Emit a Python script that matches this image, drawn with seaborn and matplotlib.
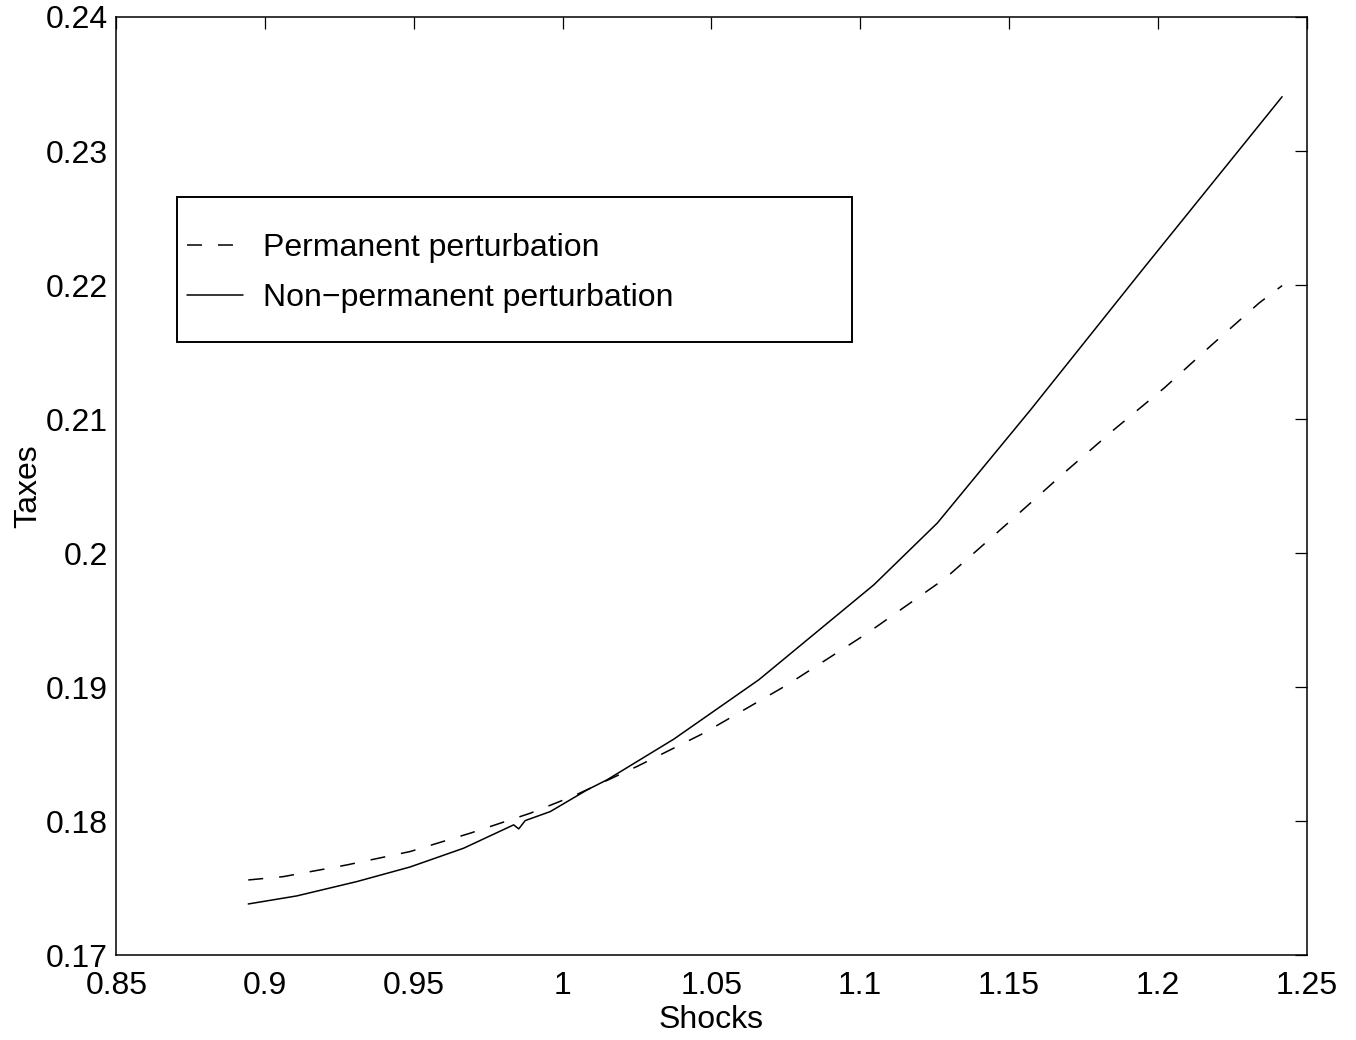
# -*- coding: utf-8 -*-
# taxes vs shocks, permanent / non-permanent perturbation
import matplotlib
matplotlib.use("Agg")
import matplotlib.pyplot as plt
from matplotlib.patches import Rectangle
import numpy as np
import pandas as pd
import seaborn as sns

# permanent perturbation (dashed)
perm_x = [0.8943, 0.9061, 0.9274, 0.9487, 0.9689, 0.9891, 1.0037, 1.0250,
          1.0474, 1.0755, 1.1024, 1.1287, 1.1528, 1.1685, 1.1853, 1.2022,
          1.2179, 1.2341, 1.2418]
perm_y = [0.17563, 0.17588, 0.17675, 0.17775, 0.17912, 0.18061, 0.18190, 0.18410,
          0.18658, 0.19019, 0.19404, 0.19815, 0.20287, 0.20599, 0.20922, 0.21233,
          0.21549, 0.21867, 0.21996]

# non-permanent perturbation (solid)
nonp_x = [0.8943, 0.9106, 0.9308, 0.9487, 0.9667, 0.9835, 0.9852, 0.9874,
          0.9958, 1.0082, 1.0149, 1.0373, 1.0659, 1.1046, 1.1259, 1.1573,
          1.1949, 1.2418]
nonp_y = [0.17384, 0.17444, 0.17551, 0.17660, 0.17800, 0.17974, 0.17944, 0.18006,
          0.18073, 0.18235, 0.18310, 0.18613, 0.19056, 0.19765, 0.20225, 0.21071,
          0.22116, 0.23405]

xticks = [0.85, 0.9, 0.95, 1.0, 1.05, 1.1, 1.15, 1.2, 1.25]
xtick_labels = ["0.85", "0.9", "0.95", "1", "1.05", "1.1", "1.15", "1.2", "1.25"]
yticks = [0.17, 0.18, 0.19, 0.2, 0.21, 0.22, 0.23, 0.24]
ytick_labels = ["0.17", "0.18", "0.19", "0.2", "0.21", "0.22", "0.23", "0.24"]

lab_perm = "Permanent perturbation"
lab_nonp = "Non\u2212permanent perturbation"

sns.set_style("white")
plt.rcParams["font.family"] = ["Liberation Sans", "DejaVu Sans"]
plt.rcParams["text.color"] = "black"
plt.rcParams["axes.labelcolor"] = "black"
FS = 23
DASH = (9.8, 10.5)

perm = pd.DataFrame({"Shocks": perm_x, "Taxes": perm_y})
nonp = pd.DataFrame({"Shocks": nonp_x, "Taxes": nonp_y})

fig = plt.figure(figsize=(13.56, 10.40), dpi=100)
ax = fig.add_axes([0.0859, 0.0813, 0.8776, 0.9024])

sns.lineplot(data=perm, x="Shocks", y="Taxes", color="black", lw=1.1,
             sort=False, ax=ax, label=lab_perm)
sns.lineplot(data=nonp, x="Shocks", y="Taxes", color="black", lw=1.1,
             sort=False, ax=ax, label=lab_nonp)
ax.lines[0].set_dashes(DASH)

ax.set_xlim(0.85, 1.25)
ax.set_ylim(0.17, 0.24)
ax.set_xticks(xticks)
ax.set_xticklabels(xtick_labels)
ax.set_yticks(yticks)
ax.set_yticklabels(ytick_labels)
ax.tick_params(direction="in", length=8.5, width=0.9, labelsize=FS,
               top=True, right=True, color="black", labelcolor="black")
ax.tick_params(axis="x", pad=11)
ax.tick_params(axis="y", pad=6)
for sp in ax.spines.values():
    sp.set_linewidth(1.1)
    sp.set_color("black")

ax.set_xlabel("Shocks", fontsize=FS, labelpad=3, color="black")
ax.set_ylabel("Taxes", fontsize=FS, labelpad=2, color="black")

leg = ax.legend(loc="center left", bbox_to_anchor=(0.0590, 0.7272),
                frameon=False, fontsize=FS, borderpad=0, borderaxespad=0,
                handlelength=1.75, handletextpad=0.63, labelspacing=0.62)
for t in leg.get_texts():
    t.set_color("black")
for h in leg.get_lines():
    h.set_color("black")
    h.set_linewidth(1.1)
leg.get_lines()[0].set_dashes(DASH)

# legend box
ax.add_patch(Rectangle((0.0508, 0.6536), 0.5672, 0.1546, transform=ax.transAxes,
                       fill=False, lw=1.4, ec="black", zorder=5))

fig.savefig("out.png", dpi=100)
